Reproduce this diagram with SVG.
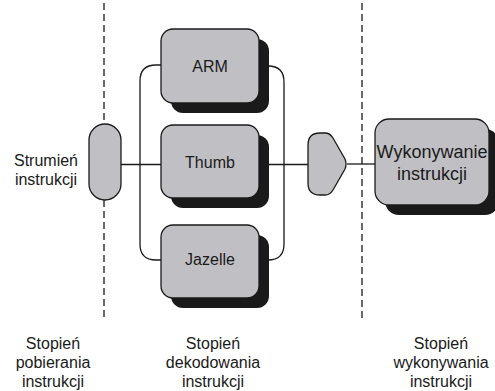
<svg xmlns="http://www.w3.org/2000/svg" width="495" height="391" viewBox="0 0 495 391">
<style>
.conn{fill:none;stroke:#1a1a1a;stroke-width:1.3}
.dash{fill:none;stroke:#1a1a1a;stroke-width:1.3;stroke-dasharray:7 4}
.box{fill:#c0c0c4;stroke:#1a1a1a;stroke-width:1.3}
.shadow{fill:#1a1a1a}
.t{font-family:"Liberation Sans",Arial,sans-serif;font-size:16px;fill:#1a1a1a;text-anchor:middle}
.tb{font-family:"Liberation Sans",Arial,sans-serif;font-size:18px;fill:#1a1a1a;text-anchor:middle}
</style>
<rect width="495" height="391" fill="#ffffff"/>
<g id="connectors">
<path class="dash" d="M104,3 V124"/>
<path class="dash" d="M104,200 V318"/>
<path class="dash" d="M362,3 V318"/>
<path class="conn" d="M121,164.5 H161"/>
<path class="conn" d="M161,65 H156 Q140,65 140,81 V244 Q140,260 156,260 H161"/>
<path class="conn" d="M259,66 H268 Q284,66 284,82 V244 Q284,260 268,260 H259"/>
<path class="conn" d="M259,164.5 H308"/>
<path class="conn" d="M347,164 H375"/>
</g>
<g id="strumien">
<rect class="box" x="89" y="124" width="32" height="76" rx="16"/>
<text class="t" x="46" y="166">Strumień</text>
<text class="t" x="46" y="185">instrukcji</text>
</g>
<g id="arm">
<rect class="shadow" x="171" y="39" width="98" height="74" rx="12"/>
<rect class="box" x="161" y="29" width="98" height="74" rx="12"/>
<text class="t" x="210" y="72">ARM</text>
</g>
<g id="thumb">
<rect class="shadow" x="171" y="135" width="98" height="73" rx="12"/>
<rect class="box" x="161" y="125" width="98" height="73" rx="12"/>
<text class="t" x="210" y="168">Thumb</text>
</g>
<g id="jazelle">
<rect class="shadow" x="171" y="235" width="98" height="73" rx="12"/>
<rect class="box" x="161" y="225" width="98" height="73" rx="12"/>
<text class="t" x="210" y="265">Jazelle</text>
</g>
<g id="selektor">
<path class="box" d="M320,133 H325 Q330,133 333,138 L345,159 Q347,164 345,169 L333,190 Q330,195 325,195 H320 Q308,195 308,183 V145 Q308,133 320,133 Z"/>
</g>
<g id="wykonywanie">
<rect class="shadow" x="385" y="129" width="114" height="86" rx="14"/>
<rect class="box" x="375" y="119" width="114" height="86" rx="14"/>
<text class="tb" x="432" y="158">Wykonywanie</text>
<text class="tb" x="432" y="180">instrukcji</text>
</g>
<g id="etykiety">
<text class="t" x="53" y="349">Stopień</text>
<text class="t" x="53" y="368">pobierania</text>
<text class="t" x="53" y="387">instrukcji</text>
<text class="t" x="213" y="349">Stopień</text>
<text class="t" x="213" y="368">dekodowania</text>
<text class="t" x="213" y="387">instrukcji</text>
<text class="t" x="441" y="349">Stopień</text>
<text class="t" x="441" y="368">wykonywania</text>
<text class="t" x="441" y="387">instrukcji</text>
</g>
</svg>
